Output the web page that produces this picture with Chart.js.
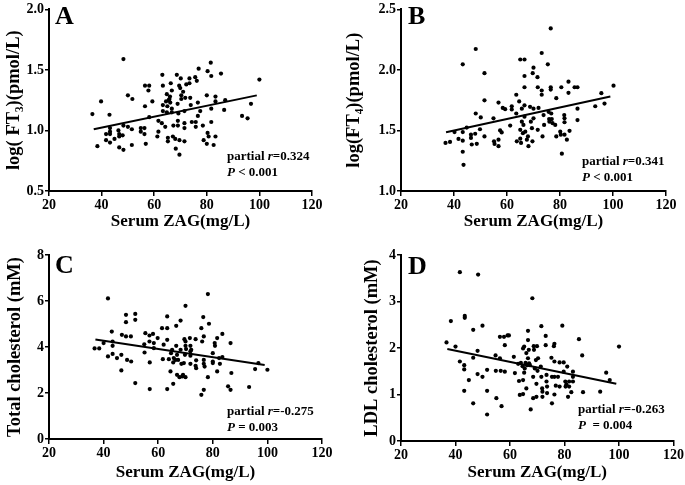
<!DOCTYPE html>
<html>
<head>
<meta charset="utf-8">
<script src="https://cdn.jsdelivr.net/npm/chart.js@4.4.1/dist/chart.umd.min.js"></script>
<style>
  html, body { margin: 0; padding: 0; background: #fff; }
  #wrap { position: relative; width: 685px; height: 485px; }
  canvas { position: absolute; }
</style>
</head>
<body>
<div id="wrap">
  <canvas id="chartA" width="340" height="240" style="left:0;top:0"></canvas>
  <canvas id="chartB" width="345" height="240" style="left:340px;top:0"></canvas>
  <canvas id="chartC" width="340" height="245" style="left:0;top:240px"></canvas>
  <canvas id="chartD" width="345" height="245" style="left:340px;top:240px"></canvas>
</div>
<script>
// Serum ZAG (x) and the four outcome variables
const aZag = [36.5,38.4,39.8,43.0,41.7,41.7,43.2,43.2,43.2,43.2,44.9,46.4,46.7,46.7,46.7,48.0,48.3,48.3,48.3,50.0,50.0,51.5,51.5,51.7,54.9,54.9,56.3,56.3,56.5,56.8,56.5,58.1,57.8,58.1,59.3,61.2,61.6,61.6,62.9,63.1,63.3,63.3,63.3,64.2,64.8,64.8,65.2,65.2,65.8,66.1,66.3,66.7,66.7,66.7,67.1,67.3,68.0,68.2,68.6,68.9,69.0,69.0,69.2,69.6,69.6,69.9,70.1,70.3,70.3,71.5,71.5,71.5,71.5,71.8,72.2,73.4,73.4,73.7,73.9,74.3,75.8,75.8,75.6,76.2,76.6,76.6,76.9,77.5,78.5,78.8,80.0,80.3,80.3,80.7,80.0,81.5,81.7,81.7,81.7,82.6,83.3,83.3,83.3,85.4,86.6,87.0,93.4,95.5,96.8,100.0,65.5,66.0,65.0,71.0,69.5,64.5];
const aFt3 = [1.135,0.87,1.24,1.13,0.97,0.92,1.02,0.99,0.97,0.90,0.93,1.00,0.97,0.95,0.86,0.96,1.04,0.84,1.59,1.29,1.03,1.01,0.88,1.26,1.02,0.99,1.02,0.97,1.20,0.89,1.37,1.37,1.33,1.11,1.24,0.95,0.99,1.08,1.06,1.46,1.37,1.21,1.16,1.03,1.15,1.30,0.94,0.91,1.26,1.23,1.39,1.33,1.18,1.15,0.95,1.04,0.93,0.85,1.46,1.22,1.08,1.04,1.14,0.80,0.92,1.35,1.43,1.29,1.26,0.91,1.02,1.06,1.16,1.27,1.38,1.39,1.43,1.27,1.21,1.07,1.03,1.07,1.44,1.41,1.12,1.23,1.51,1.16,1.04,0.92,1.29,1.49,0.98,0.95,0.89,1.56,1.45,1.18,1.07,0.88,1.28,1.24,0.95,1.47,1.17,1.25,1.12,1.10,1.22,1.42,1.25,1.28,1.20,1.32,1.37,1.24];

const bZag = [36.8,38.5,40.2,41.7,43.3,43.3,43.3,43.3,43.6,44.8,46.4,46.4,46.7,48.0,48.2,48.2,48.6,49.8,50.1,51.5,51.5,51.5,54.9,55.1,55.3,56.8,56.8,56.8,57.4,58.0,58.4,59.3,61.2,61.8,61.8,63.5,63.5,63.7,64.6,65.0,65.0,65.0,65.3,65.6,65.6,66.0,66.2,66.6,66.6,66.6,66.6,66.6,66.9,67.5,67.9,68.1,68.7,69.0,69.4,69.6,69.7,70.0,70.0,70.0,71.5,71.6,71.6,71.9,73.1,73.1,73.1,73.4,73.8,74.0,75.4,75.7,75.9,76.0,76.5,76.5,76.5,76.7,76.9,77.2,78.2,78.6,78.6,80.1,80.3,80.5,80.7,81.6,81.7,81.7,81.7,82.6,83.2,83.2,83.6,85.5,86.6,86.6,86.6,93.3,95.6,96.8,100.2];
const bFt4 = [1.397,1.405,1.487,1.43,2.046,1.487,1.416,1.324,1.216,1.524,1.465,1.438,1.384,1.473,2.173,1.64,1.39,1.51,1.608,1.973,1.749,1.451,1.60,1.41,1.389,1.73,1.37,1.424,1.50,1.484,1.686,1.676,1.54,1.70,1.673,1.795,1.64,1.41,1.74,2.086,1.505,1.432,1.397,1.68,1.573,1.478,1.546,2.086,1.95,1.857,1.708,1.614,1.49,1.424,1.451,1.37,1.695,1.573,1.519,1.41,1.973,2.019,1.68,1.60,1.94,1.857,1.505,1.686,2.14,1.83,1.795,1.451,1.627,1.546,2.046,1.654,1.594,1.573,2.343,1.857,1.838,1.64,1.594,1.56,1.546,1.767,1.451,1.49,1.465,1.857,1.308,1.627,1.60,1.568,1.465,1.424,1.903,1.811,1.497,1.857,1.857,1.68,1.586,1.70,1.808,1.722,1.87];

const cZag = [41.6,78.2,70.0,48.2,51.6,63.3,76.5,48.2,51.6,68.2,78.6,66.6,61.4,63.3,75.8,43.0,55.3,58.1,83.5,46.7,48.2,50.0,56.8,76.7,59.8,71.6,73.7,69.6,81.6,63.3,56.8,43.3,70.0,76.1,40.0,58.4,54.9,62.0,80.7,86.5,43.3,66.6,70.0,71.8,80.8,36.7,38.4,58.4,65.1,68.2,70.2,72.1,55.0,64.7,71.8,80.0,43.3,46.5,66.9,69.8,71.8,41.6,44.9,65.7,82.3,83.5,61.7,63.9,66.3,67.3,73.9,76.7,48.6,50.1,56.9,65.5,80.0,68.5,69.4,71.8,76.7,82.6,80.0,96.7,73.7,77.0,73.9,95.5,46.5,64.5,81.6,86.8,100.0,66.9,69.1,68.8,67.8,70.0,78.2,51.6,65.5,85.6,93.3,56.9,63.3,76.7,86.5,75.8];
const cTc = [6.11,6.30,5.79,5.40,5.44,5.33,5.30,5.08,5.18,5.15,5.01,4.92,4.82,4.82,4.82,4.67,4.60,4.57,4.57,4.53,4.46,4.46,4.50,4.46,4.39,4.39,4.34,4.34,4.39,4.31,4.24,4.24,4.24,4.24,4.17,4.17,4.12,4.10,4.17,4.17,4.05,4.05,4.05,4.05,4.05,3.94,3.94,3.95,3.88,3.88,3.91,3.88,3.76,3.73,3.81,3.73,3.70,3.66,3.66,3.66,3.62,3.59,3.52,3.52,3.52,3.56,3.47,3.47,3.44,3.44,3.42,3.44,3.44,3.37,3.33,3.33,3.37,3.27,3.30,3.27,3.27,3.27,3.30,3.30,3.18,3.15,3.08,3.04,2.98,2.94,2.94,2.87,3.01,2.79,2.79,2.72,2.69,2.69,2.69,2.43,2.40,2.29,2.26,2.17,2.17,2.14,2.14,1.92];

const dZag = [36.7,38.3,40.0,41.6,41.6,43.2,43.2,43.2,43.4,43.4,44.9,46.5,46.5,46.5,48.1,48.1,48.3,49.9,49.9,51.6,51.6,51.6,54.7,54.8,55.0,56.3,56.3,56.6,56.9,57.8,58.1,58.1,59.1,59.6,61.4,61.8,63.0,63.3,63.6,64.0,64.6,64.8,64.8,64.8,65.2,65.2,65.4,65.7,66.0,66.0,66.3,66.6,66.6,66.6,66.9,67.0,67.3,67.6,68.2,68.5,68.5,68.7,68.8,69.1,69.5,69.7,69.7,69.9,70.1,70.3,71.3,71.5,71.5,71.8,71.9,71.9,73.1,73.1,73.4,73.4,73.6,73.6,75.2,75.4,75.4,76.1,76.3,76.3,76.3,76.3,76.8,77.6,78.2,78.2,79.2,79.7,79.7,80.3,80.4,80.7,81.0,81.3,81.7,81.7,82.5,83.1,83.1,83.1,85.3,86.5,86.8,93.1,95.3,96.6,100.0];
const dLdl = [2.12,2.58,2.03,3.63,1.71,1.63,1.54,1.08,2.69,2.65,1.31,2.39,1.79,0.81,1.94,1.44,3.58,2.48,1.38,1.53,1.08,0.57,1.84,1.51,0.92,2.24,1.78,1.51,0.75,2.24,2.06,1.49,2.27,2.27,1.81,1.46,1.66,1.29,0.99,1.68,1.61,1.99,1.31,1.01,2.03,1.47,1.56,1.68,1.89,1.13,1.63,2.37,2.17,1.78,1.96,1.67,1.63,0.68,3.07,0.92,1.38,2.04,1.96,1.56,1.74,1.23,0.95,2.04,1.51,1.78,1.60,2.47,1.38,1.13,1.06,0.95,2.26,2.06,1.42,1.28,1.17,1.03,1.79,1.38,0.81,2.04,2.09,1.71,1.38,1.00,1.19,1.38,1.69,1.17,2.48,1.69,1.49,1.28,1.17,1.22,1.60,0.95,1.28,1.17,1.05,1.49,1.38,1.28,2.19,1.84,1.05,1.06,1.47,1.31,2.03];

// regression line end points
const aFitX = [37, 99], aFitY = [1.01, 1.29];
const bFitX = [37, 99], bFitY = [1.485, 1.78];
const cFitX = [37, 99], cFitY = [4.33, 3.22];
const dFitX = [37, 99], dFitY = [1.98, 1.23];

const FONT = "'Liberation Serif', 'Times New Roman', serif";

function toPoints(xs, ys) {
    return xs.map((x, i) => ({ x: x, y: ys[i] }));
}

function drawStats(ctx, x, y, rText, pText) {
    ctx.fillStyle = "#000";
    ctx.textBaseline = "alphabetic";
    ctx.textAlign = "left";
    let cx = x;
    ctx.font = "bold 13px " + FONT;
    ctx.fillText("partial ", cx, y);
    cx += ctx.measureText("partial ").width;
    ctx.font = "italic bold 13px " + FONT;
    ctx.fillText("r", cx, y);
    cx += ctx.measureText("r").width;
    ctx.font = "bold 13px " + FONT;
    ctx.fillText(rText, cx, y);

    ctx.font = "italic bold 13px " + FONT;
    ctx.fillText("P", x, y + 16);
    const pw = ctx.measureText("P").width;
    ctx.font = "bold 13px " + FONT;
    ctx.fillText(pText, x + pw, y + 16);
}

function makePanel(id, cfg) {
    const canvas = document.getElementById(id);
    if (!canvas) return;

    const textPlugin = {
        id: "panelText" + id,
        afterDraw(chart) {
            const ctx = chart.ctx;
            ctx.save();
            ctx.fillStyle = "#000";
            ctx.font = "bold 26px " + FONT;
            ctx.textAlign = "left";
            ctx.textBaseline = "alphabetic";
            ctx.fillText(cfg.letter, cfg.letterPos[0], cfg.letterPos[1]);
            drawStats(ctx, cfg.statPos[0], cfg.statPos[1], cfg.rText, cfg.pText);
            ctx.restore();
        }
    };

    return new Chart(canvas, {
        type: "scatter",
        data: {
            datasets: [{
                data: toPoints(cfg.xs, cfg.ys),
                backgroundColor: "#000",
                borderColor: "#000",
                pointRadius: 2.1,
                pointHoverRadius: 2.1,
                borderWidth: 0
            }, {
                type: "line",
                data: toPoints(cfg.fitX, cfg.fitY),
                borderColor: "#000",
                borderWidth: 2,
                pointRadius: 0,
                fill: false
            }]
        },
        options: {
            responsive: false,
            animation: false,
            layout: { padding: { top: cfg.top, right: cfg.right, left: 0, bottom: 0 } },
            plugins: { legend: { display: false }, tooltip: { enabled: false } },
            scales: {
                x: {
                    type: "linear",
                    min: 20, max: 120,
                    afterFit: (s) => { s.height = cfg.xHeight; },
                    ticks: { stepSize: 20, color: "#000", padding: 1, font: { family: FONT, size: 14, weight: "bold" } },
                    grid: { drawOnChartArea: false, color: "#000", lineWidth: 1.5, tickLength: 5 },
                    border: { color: "#000", width: 2 },
                    title: {
                        display: true, text: "Serum ZAG(mg/L)", color: "#000",
                        font: { family: FONT, size: 17, weight: "bold" },
                        padding: { top: 0, bottom: cfg.xTitlePad }
                    }
                },
                y: {
                    type: "linear",
                    min: cfg.yMin, max: cfg.yMax,
                    afterFit: (s) => { s.width = cfg.yWidth; },
                    ticks: {
                        stepSize: cfg.yStep, color: "#000", padding: 1,
                        font: { family: FONT, size: 14, weight: "bold" },
                        callback: (v) => cfg.yDigits ? v.toFixed(cfg.yDigits) : String(v)
                    },
                    grid: { drawOnChartArea: false, color: "#000", lineWidth: 1.5, tickLength: 4 },
                    border: { color: "#000", width: 2 },
                    title: {
                        display: true, text: cfg.yTitle, color: "#000",
                        font: { family: FONT, size: 18.5, weight: "bold" },
                        padding: { top: cfg.yTitlePad, bottom: 0 }
                    }
                }
            }
        },
        plugins: [textPlugin]
    });
}

window._chartA = makePanel("chartA", {
    xs: aZag, ys: aFt3, fitX: aFitX, fitY: aFitY,
    yMin: 0.5, yMax: 2.0, yStep: 0.5, yDigits: 1,
    yTitle: "log( FT\u2083)(pmol/L)",
    top: 6, right: 28, yWidth: 49, xHeight: 49, yTitlePad: 3, xTitlePad: 8,
    letter: "A", letterPos: [55, 24],
    statPos: [227, 160], rText: "=0.324", pText: " < 0.001"
});

window._chartB = makePanel("chartB", {
    xs: bZag, ys: bFt4, fitX: bFitX, fitY: bFitY,
    yMin: 1.0, yMax: 2.5, yStep: 0.5, yDigits: 1,
    yTitle: "log(FT\u2084)(pmol/L)",
    top: 6, right: 19, yWidth: 61, xHeight: 49, yTitlePad: 3, xTitlePad: 8,
    letter: "B", letterPos: [68, 24],
    statPos: [242, 165], rText: "=0.341", pText: " < 0.001"
});

window._chartC = makePanel("chartC", {
    xs: cZag, ys: cTc, fitX: cFitX, fitY: cFitY,
    yMin: 0, yMax: 8, yStep: 2, yDigits: 0,
    yTitle: "Total cholesterol (mM)",
    top: 15, right: 18, yWidth: 49, xHeight: 46, yTitlePad: 4, xTitlePad: 2,
    letter: "C", letterPos: [55, 33],
    statPos: [227, 175], rText: "=-0.275", pText: " = 0.003"
});

window._chartD = makePanel("chartD", {
    xs: dZag, ys: dLdl, fitX: dFitX, fitY: dFitY,
    yMin: 0, yMax: 4, yStep: 1, yDigits: 0,
    yTitle: "LDL cholesterol (mM)",
    top: 15, right: 11, yWidth: 61, xHeight: 44, yTitlePad: 21, xTitlePad: 2,
    letter: "D", letterPos: [68, 34],
    statPos: [238, 173], rText: "=-0.263", pText: "  = 0.004"
});
</script>
</body>
</html>
